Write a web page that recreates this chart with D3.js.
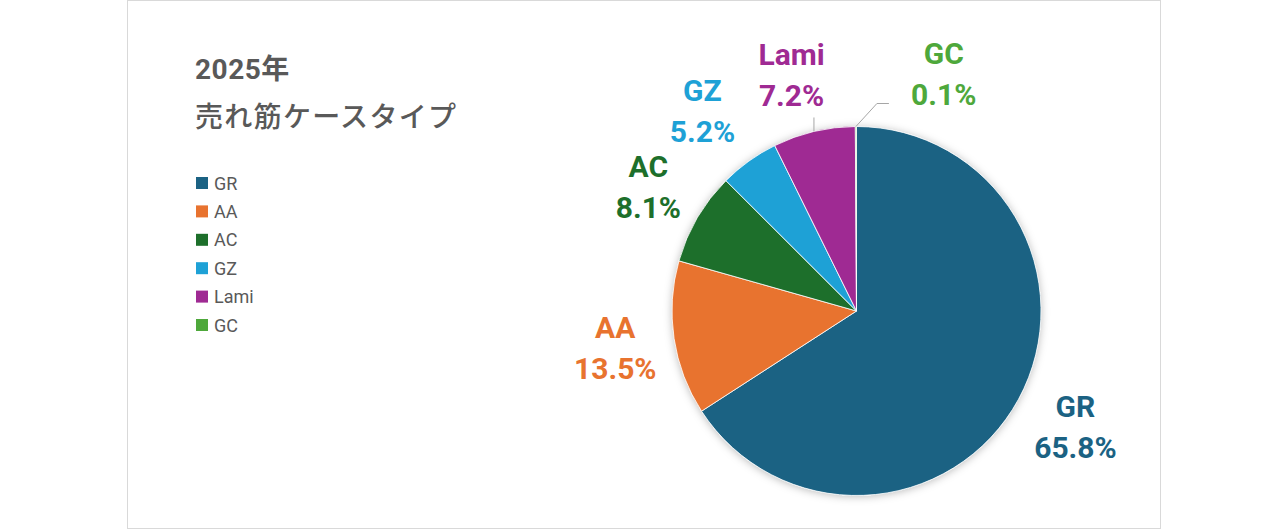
<!DOCTYPE html>
<html>
<head>
<meta charset="utf-8">
<script src="https://cdn.jsdelivr.net/npm/d3@7"></script>
<style>
  body { margin: 0; background: #fff; }
  svg { display: block; }
</style>
</head>
<body>
<svg id="chart" width="1280" height="530"></svg>
<script>
// data
var types = ["GR", "AA", "AC", "GZ", "Lami", "GC"];
var shares = [65.8, 13.5, 8.1, 5.2, 7.2, 0.1];
var colors = ["#1b6283", "#e8732f", "#1d6f2b", "#1ea1d6", "#9f2a93", "#4ea83b"];
var titleLines = ["2025年", "売れ筋ケースタイプ"];

var svg = d3.select("#chart"),
    cx = 856.5, cy = 311, radius = 184.5,
    labelRadius = 247;

var rows = types.map(function (t, i) { return {name: t, value: shares[i], color: colors[i]}; });

// frame
svg.append("rect")
    .attr("x", 127.5).attr("y", 0.5)
    .attr("width", 1033).attr("height", 528)
    .style("fill", "#fff")
    .style("stroke", "#d9d9d9");

// shadow for pie
var defs = svg.append("defs");
var f = defs.append("filter").attr("id", "shadow")
    .attr("x", "-20%").attr("y", "-20%").attr("width", "140%").attr("height", "140%");
f.append("feDropShadow")
    .attr("dx", 0).attr("dy", 1)
    .attr("stdDeviation", 4)
    .attr("flood-color", "#000")
    .attr("flood-opacity", 0.28);

// title
svg.append("text")
    .attr("x", 195).attr("y", 79)
    .style("font-family", "Roboto, 'Noto Sans CJK JP', sans-serif")
    .style("font-weight", "bold")
    .style("font-size", "28px")
    .style("letter-spacing", "0.5px")
    .style("fill", "#595959")
    .text(titleLines[0]);

svg.append("text")
    .attr("x", 195).attr("y", 127)
    .style("font-family", "'Noto Sans CJK JP', sans-serif")
    .style("font-size", "28px")
    .style("font-weight", 500)
    .style("letter-spacing", "1.3px")
    .style("fill", "#595959")
    .text(titleLines[1]);

// legend
var legend = svg.append("g").attr("transform", "translate(196,183)");
var item = legend.selectAll("g").data(rows).enter().append("g")
    .attr("transform", function (d, i) { return "translate(0," + (i * 28.4) + ")"; });
item.append("rect")
    .attr("x", 0).attr("y", -6)
    .attr("width", 12).attr("height", 12)
    .style("fill", function (d) { return d.color; });
item.append("text")
    .attr("x", 18).attr("y", 6.5)
    .style("font-family", "Roboto, sans-serif")
    .style("font-size", "18px")
    .style("fill", "#595959")
    .text(function (d) { return d.name; });

// pie
var pie = d3.pie().sort(null).value(function (d) { return d.value; });
var arc = d3.arc().innerRadius(0).outerRadius(radius);
var arcs = pie(rows);

var g = svg.append("g").attr("transform", "translate(" + cx + "," + cy + ")");

g.append("circle").attr("r", radius).style("fill", "#fff").attr("filter", "url(#shadow)");

g.selectAll("path.slice").data(arcs).enter().append("path")
    .attr("class", "slice")
    .attr("d", arc)
    .style("fill", function (d) { return d.data.color; })
    .style("stroke", "#fff")
    .style("stroke-width", 0.8);

// label positions
function mid(d) { return (d.startAngle + d.endAngle) / 2; }
function pt(a, r) { return [Math.sin(a) * r, -Math.cos(a) * r]; }
var nudge = {GR: [2, -2], AA: [3, 0], AC: [5, 1], GZ: [-10, 1], Lami: [-8, 4], GC: [88, 10]};

var labels = g.selectAll("g.lbl").data(arcs).enter().append("g")
    .attr("class", "lbl")
    .attr("transform", function (d) {
        var p = pt(mid(d), labelRadius), n = nudge[d.data.name] || [0, 0];
        return "translate(" + (p[0] + n[0]) + "," + (p[1] + n[1]) + ")";
    });
labels.append("text")
    .attr("y", -10)
    .attr("text-anchor", "middle")
    .style("font-family", "Roboto, sans-serif")
    .style("font-weight", "bold")
    .style("font-size", "30px")
    .style("fill", function (d) { return d.data.color; })
    .text(function (d) { return d.data.name; });
labels.append("text")
    .attr("y", 31)
    .attr("text-anchor", "middle")
    .style("font-family", "Roboto, sans-serif")
    .style("font-weight", "bold")
    .style("font-size", "30px")
    .style("fill", function (d) { return d.data.color; })
    .text(function (d) { return d3.format(".1f")(d.data.value) + "%"; });

// leader lines for the two small top slices
var lami = arcs[4], gc = arcs[5];
var pL = pt(mid(lami), radius);
g.append("path")
    .attr("d", d3.line()([[pL[0], pL[1]], [pL[0], pL[1] - 14]]))
    .style("fill", "none").style("stroke", "#a6a6a6").style("stroke-width", 1);
var pG = pt(mid(gc), radius);
g.append("path")
    .attr("d", d3.line()([[pG[0], pG[1]], [pG[0] + 21, pG[1] - 23], [pG[0] + 33, pG[1] - 23]]))
    .style("fill", "none").style("stroke", "#a6a6a6").style("stroke-width", 1);
</script>
</body>
</html>
